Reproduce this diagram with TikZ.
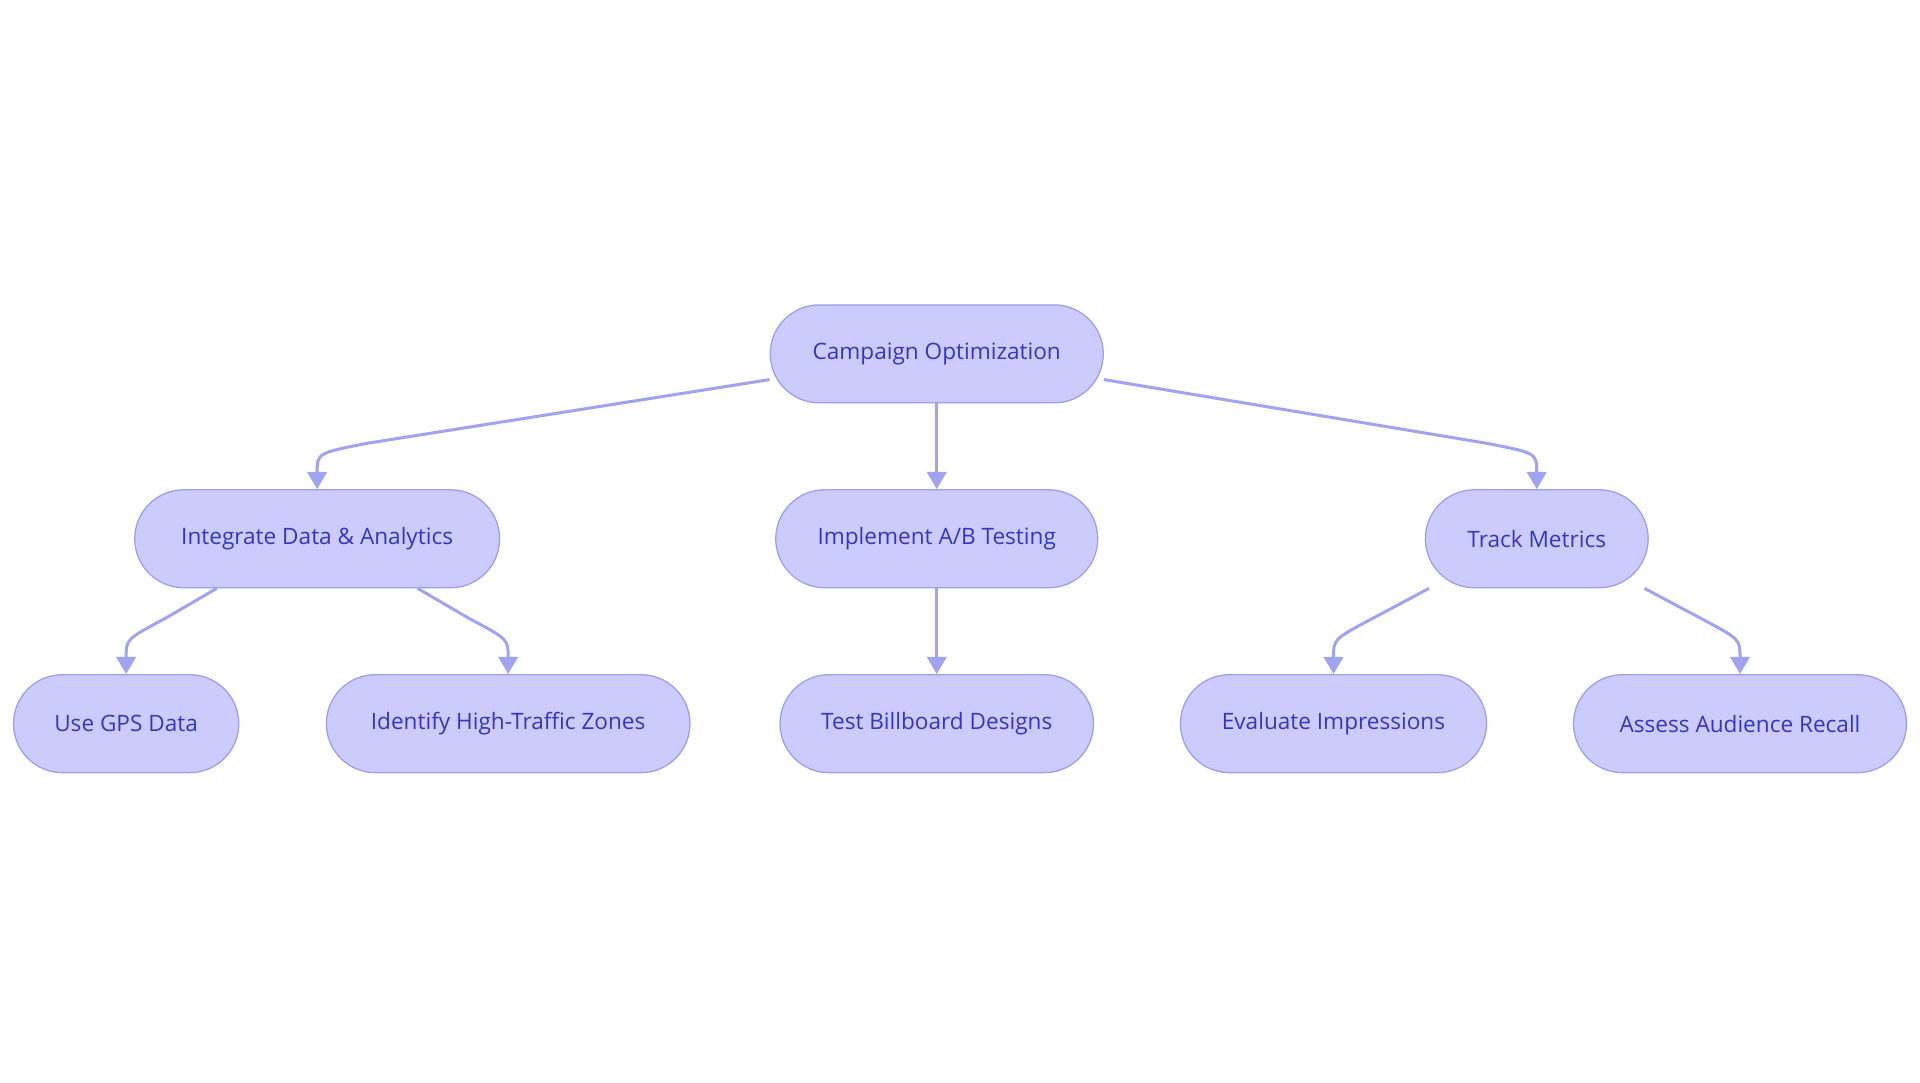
\documentclass[tikz,border=0pt]{standalone}
\usepackage{fontspec}
\setmainfont{Open Sans}
\usetikzlibrary{arrows.meta,calc}
\definecolor{nfill}{HTML}{CBCCFD}
\definecolor{ndraw}{HTML}{9C9EF0}
\definecolor{ntext}{HTML}{3434C8}
\definecolor{edge}{HTML}{A0A3F2}
\begin{document}
\begin{tikzpicture}[x=0.02cm,y=-0.02cm,
  box/.style={draw=ndraw,fill=nfill,text=ntext,rounded corners=0.8cm,minimum height=1.6cm,inner sep=0pt,font=\fontsize{10.5}{12}\selectfont,line width=0.6pt},
  con/.style={draw=edge,line width=1.4pt,-{Triangle[length=8pt,width=9pt]}}]
\useasboundingbox (0,0) rectangle (1568,884);
\node[box,minimum width=5.44cm] (root) at (765,289) {Campaign Optimization};
\node[box,minimum width=5.96cm] (int) at (259,440) {Integrate Data \& Analytics};
\node[box,minimum width=5.26cm] (ab) at (765,440) {Implement A/B Testing};
\node[box,minimum width=3.64cm] (track) at (1255,440) {Track Metrics};
\node[box,minimum width=3.68cm] (gps) at (103,591) {Use GPS Data};
\node[box,minimum width=5.94cm] (zones) at (415,591) {Identify High-Traffic Zones};
\node[box,minimum width=5.12cm] (bill) at (765,591) {Test Billboard Designs};
\node[box,minimum width=5.0cm] (imp) at (1089,591) {Evaluate Impressions};
\node[box,minimum width=5.44cm] (rec) at (1421,591) {Assess Audience Recall};
\draw[con] ($(root.west)+(0,21)$) -- (300,362) .. controls (259,370) .. (int.north);
\draw[con] (root) -- (ab);
\draw[con] ($(root.east)+(0,21)$) -- (1214,362) .. controls (1255,370) .. (track.north);
\draw[con] (ab) -- (bill);
\draw[con] ($(int.south)+(-82,0)$) -- (135,505) .. controls (103,522) .. (gps.north);
\draw[con] ($(int.south)+(82,0)$) -- (383,505) .. controls (415,522) .. (zones.north);
\draw[con] ($(track.south)+(-88,0)$) -- (1121,505) .. controls (1089,522) .. (imp.north);
\draw[con] ($(track.south)+(88,0)$) -- (1389,505) .. controls (1421,522) .. (rec.north);
\end{tikzpicture}
\end{document}
